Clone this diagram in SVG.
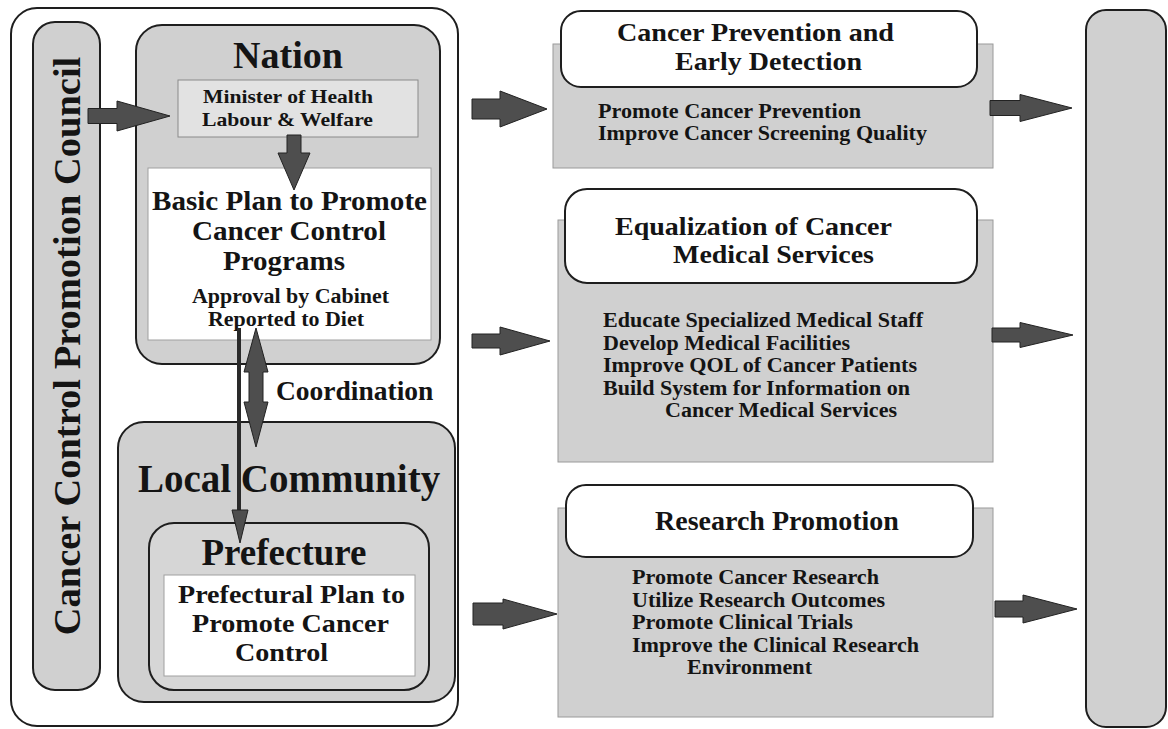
<svg xmlns="http://www.w3.org/2000/svg" width="1168" height="729" viewBox="0 0 1168 729">
<style>
.t{font-family:"Liberation Serif","Times New Roman",serif;font-weight:bold;fill:#141414}
.big{stroke:#1e1e1e;stroke-width:2}
.gray{fill:#d0d0d0}
.panel{fill:#d0d0d0;stroke:#9a9a9a;stroke-width:1}
.hdr{fill:#ffffff;stroke:#1e1e1e;stroke-width:2}
.arrow{fill:#4e4e4e;stroke:#222;stroke-width:1}
.item{font-size:20px}
</style>
<rect width="1168" height="729" fill="#ffffff"/>

<g id="outer-panel">
  <rect x="11" y="8" width="447" height="718" rx="26" fill="#ffffff" class="big"/>
</g>

<g id="council">
  <rect x="33" y="22" width="67" height="668" rx="22" class="gray big"/>
  <text class="t" font-size="38.5" text-anchor="middle" transform="translate(80,346) rotate(-90)">Cancer Control Promotion Council</text>
</g>

<g id="nation">
  <rect x="136" y="25" width="304" height="339" rx="26" class="gray big"/>
  <text class="t" x="288" y="68" font-size="38" text-anchor="middle">Nation</text>
</g>

<g id="minister">
  <rect x="178" y="80" width="240" height="57" fill="#e2e2e2" stroke="#8a8a8a" stroke-width="1"/>
  <text class="t" x="203" y="103" font-size="19.5" textLength="170" lengthAdjust="spacingAndGlyphs">Minister of Health</text>
  <text class="t" x="202" y="126" font-size="19.5" textLength="171" lengthAdjust="spacingAndGlyphs">Labour &amp; Welfare</text>
</g>

<g id="basic-plan">
  <rect x="148" y="168" width="283" height="172" fill="#ffffff" stroke="#a0a0a0" stroke-width="1"/>
  <text class="t" x="152" y="210" font-size="27" textLength="275" lengthAdjust="spacingAndGlyphs">Basic Plan to Promote</text>
  <text class="t" x="192" y="240" font-size="27" textLength="194" lengthAdjust="spacingAndGlyphs">Cancer Control</text>
  <text class="t" x="223" y="270" font-size="27" textLength="122" lengthAdjust="spacingAndGlyphs">Programs</text>
  <text class="t" x="192" y="303" font-size="20" textLength="197" lengthAdjust="spacingAndGlyphs">Approval by Cabinet</text>
  <text class="t" x="208" y="326" font-size="20" textLength="156" lengthAdjust="spacingAndGlyphs">Reported to Diet</text>
</g>

<g id="local-community">
  <rect x="118" y="422" width="337" height="280" rx="26" class="gray big"/>
  <text class="t" x="289" y="492" font-size="39" text-anchor="middle">Local Community</text>
</g>

<g id="prefecture">
  <rect x="149" y="523" width="280" height="167" rx="25" fill="#d6d6d6" class="big"/>
  <text class="t" x="284" y="565" font-size="37" text-anchor="middle">Prefecture</text>
</g>

<g id="prefectural-plan">
  <rect x="164" y="575" width="251" height="101" fill="#ffffff" stroke="#a0a0a0" stroke-width="1"/>
  <text class="t" x="178" y="603" font-size="26" textLength="227" lengthAdjust="spacingAndGlyphs">Prefectural Plan to</text>
  <text class="t" x="192" y="632" font-size="26" textLength="197" lengthAdjust="spacingAndGlyphs">Promote Cancer</text>
  <text class="t" x="235" y="661" font-size="26" textLength="93" lengthAdjust="spacingAndGlyphs">Control</text>
</g>

<g id="coordination-label">
  <text class="t" x="276" y="400" font-size="27.5">Coordination</text>
</g>

<g id="prevention">
  <rect x="553" y="44" width="440" height="124" class="panel"/>
  <rect x="561" y="11" width="416" height="76" rx="20" class="hdr"/>
  <text class="t" x="617" y="41" font-size="26" textLength="277" lengthAdjust="spacingAndGlyphs">Cancer Prevention and</text>
  <text class="t" x="675" y="70" font-size="26" textLength="187" lengthAdjust="spacingAndGlyphs">Early Detection</text>
  <text class="t item" x="598" y="117.5" textLength="263" lengthAdjust="spacingAndGlyphs">Promote Cancer Prevention</text>
  <text class="t item" x="598" y="140" textLength="329" lengthAdjust="spacingAndGlyphs">Improve Cancer Screening Quality</text>
</g>

<g id="equalization">
  <rect x="558" y="220" width="435" height="242" class="panel"/>
  <rect x="565" y="189" width="412" height="94" rx="22" class="hdr"/>
  <text class="t" x="615" y="235" font-size="25.5" textLength="277" lengthAdjust="spacingAndGlyphs">Equalization of Cancer</text>
  <text class="t" x="673" y="263" font-size="25.5" textLength="201" lengthAdjust="spacingAndGlyphs">Medical Services</text>
  <text class="t item" x="603" y="327" textLength="320" lengthAdjust="spacingAndGlyphs">Educate Specialized Medical Staff</text>
  <text class="t item" x="603" y="349.5" textLength="247" lengthAdjust="spacingAndGlyphs">Develop Medical Facilities</text>
  <text class="t item" x="603" y="372" textLength="314" lengthAdjust="spacingAndGlyphs">Improve QOL of Cancer Patients</text>
  <text class="t item" x="603" y="394.5" textLength="307" lengthAdjust="spacingAndGlyphs">Build System for Information on</text>
  <text class="t item" x="665" y="417" textLength="232" lengthAdjust="spacingAndGlyphs">Cancer Medical Services</text>
</g>

<g id="research">
  <rect x="558" y="508" width="435" height="209" class="panel"/>
  <rect x="566" y="485" width="407" height="72" rx="20" class="hdr"/>
  <text class="t" x="655" y="530" font-size="28">Research Promotion</text>
  <text class="t item" x="632" y="584" textLength="247" lengthAdjust="spacingAndGlyphs">Promote Cancer Research</text>
  <text class="t item" x="632" y="606.5" textLength="253" lengthAdjust="spacingAndGlyphs">Utilize Research Outcomes</text>
  <text class="t item" x="632" y="629" textLength="221" lengthAdjust="spacingAndGlyphs">Promote Clinical Trials</text>
  <text class="t item" x="632" y="651.5" textLength="287" lengthAdjust="spacingAndGlyphs">Improve the Clinical Research</text>
  <text class="t item" x="687" y="674" textLength="125" lengthAdjust="spacingAndGlyphs">Environment</text>
</g>

<g id="outcome">
  <rect x="1086" y="10" width="80" height="717" rx="20" class="gray big"/>
</g>

<g id="connectors">
  <polygon class="arrow" points="88,108.5 117,108.5 117,101 170,116 117,131 117,123.5 88,123.5"/>
  <polygon class="arrow" points="287,135 301,135 301,153 310,153 294,190 278,153 287,153"/>
  <polygon class="arrow" points="256,328 268,372 263,372 263,402 268,402 256,447 244,402 249,402 249,372 244,372"/>
  <line x1="239" y1="328" x2="239" y2="512" stroke="#2a2a2a" stroke-width="4"/>
  <polygon class="arrow" points="232,510 248,510 240,543"/>
  <polygon class="arrow" points="472,99 500,99 500,91 547,109 500,127 500,119 472,119"/>
  <polygon class="arrow" points="472,334 500,334 500,327 550,341 500,355 500,348 472,348"/>
  <polygon class="arrow" points="473,603 503,603 503,599 557,614 503,629 503,625 473,625"/>
  <polygon class="arrow" points="990,100.5 1020,100.5 1020,94.5 1072,108 1020,121.5 1020,115.5 990,115.5"/>
  <polygon class="arrow" points="992,328 1020,328 1020,322.5 1073,335 1020,347.5 1020,342 992,342"/>
  <polygon class="arrow" points="995,601 1023,601 1023,595 1077,609 1023,623 1023,617 995,617"/>
</g>
</svg>
